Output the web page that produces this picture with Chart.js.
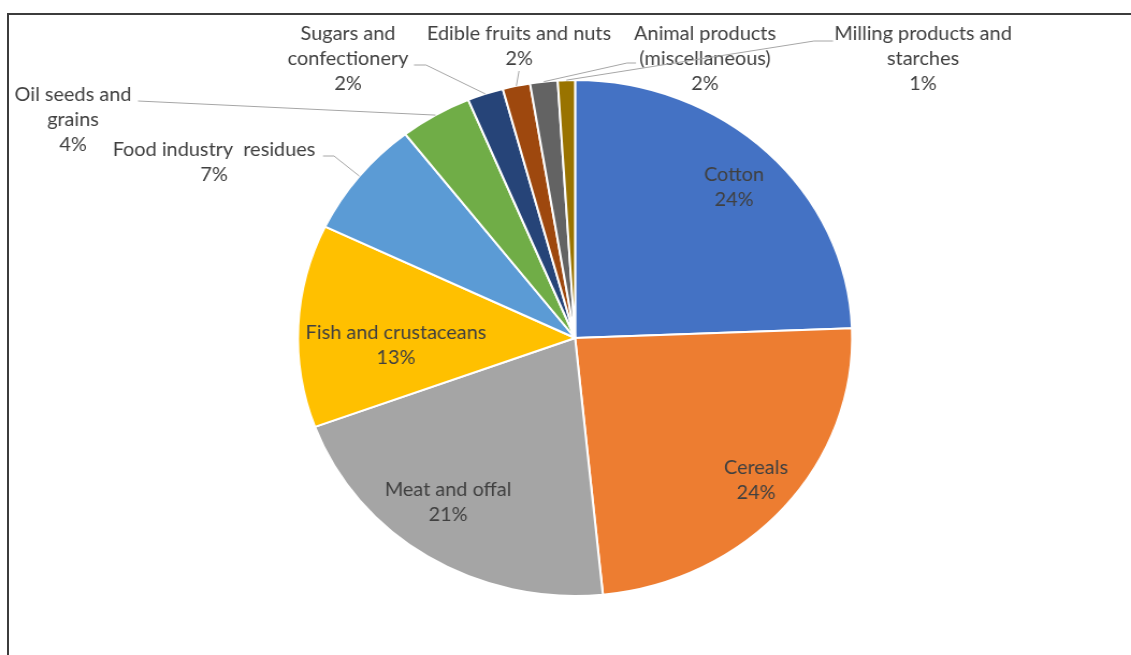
<!DOCTYPE html>
<html>
<head>
<meta charset="utf-8">
<script src="https://cdn.jsdelivr.net/npm/chart.js@4.4.0/dist/chart.umd.min.js"></script>
<style>
  html, body { margin: 0; padding: 0; background: #fff; overflow: hidden; }
  body { width: 1131px; height: 655px; position: relative; }
  #frame {
    position: absolute; left: 7px; top: 13px; width: 1300px; height: 800px;
    border-left: 2px solid #3c3c3c; border-top: 2px solid #3c3c3c;
  }
  /* the reference picture is stretched sideways, so the canvas is too */
  #wrap {
    position: absolute; left: 0; top: 0; width: 1053px; height: 655px;
    transform: scaleX(1.0741); transform-origin: 0 0;
  }
</style>
</head>
<body>
<div id="frame"></div>
<div id="wrap"><canvas id="pieChart" width="1053" height="655"></canvas></div>
<script>
// Data
const categories = [
  "Cotton", "Cereals", "Meat and offal", "Fish and crustaceans",
  "Food industry residues", "Oil seeds and grains", "Sugars and confectionery",
  "Edible fruits and nuts", "Animal products (miscellaneous)", "Milling products and starches"
];
const shares = [24.4, 24.0, 21.0, 12.7, 7.4, 4.2, 2.1, 1.6, 1.6, 1.0];
const labelLines = [
  ["Cotton"], ["Cereals"], ["Meat and offal"], ["Fish and crustaceans"],
  ["Food industry  residues"], ["Oil seeds and", "grains"], ["Sugars and", "confectionery"],
  ["Edible fruits and nuts"], ["Animal products", "(miscellaneous)"], ["Milling products and", "starches"]
];
const sliceColors = [
  "#4472C4", "#ED7D31", "#A5A5A5", "#FFC000", "#5B9BD5",
  "#70AD47", "#264478", "#9E480E", "#636363", "#997300"
];

// Label layout, in page pixels (x is divided by the stretch below)
const SX = 1131 / 1053;
const labelPlacement = [
  { x: 734, y: 175 },
  { x: 756, y: 468 },
  { x: 448, y: 490 },
  { x: 396, y: 333 },
  { x: 214, y: 150, leader: [[323, 156], [334, 156]] },
  { x: 73, y: 95, leader: [[138, 101]] },
  { x: 348, y: 34, leader: [[414, 65], [426, 65]] },
  { x: 519, y: 34, leader: [[519, 71]] },
  { x: 705, y: 34, leader: [[636, 63], [627, 63]] },
  { x: 923, y: 34, leader: [[833, 41], [814, 41]] }
];

const pieLabels = {
  id: "pieLabels",
  afterDatasetsDraw(chart) {
    const ctx = chart.ctx;
    const arcs = chart.getDatasetMeta(0).data;
    const total = shares.reduce((a, b) => a + b, 0);
    ctx.save();
    ctx.font = "18.5px Lato";
    ctx.fillStyle = "#404040";
    ctx.textAlign = "center";
    ctx.textBaseline = "middle";
    arcs.forEach((arc, i) => {
      const p = labelPlacement[i];
      if (p.leader) {
        const mid = (arc.startAngle + arc.endAngle) / 2;
        ctx.beginPath();
        p.leader.forEach(([lx, ly], k) => {
          if (k === 0) ctx.moveTo(lx / SX, ly);
          else ctx.lineTo(lx / SX, ly);
        });
        ctx.lineTo(arc.x + Math.cos(mid) * arc.outerRadius, arc.y + Math.sin(mid) * arc.outerRadius);
        ctx.strokeStyle = "#a6a6a6";
        ctx.lineWidth = 1;
        ctx.stroke();
      }
      const lines = labelLines[i].concat(Math.round((shares[i] / total) * 100) + "%");
      lines.forEach((t, k) => ctx.fillText(t, p.x / SX, p.y + k * 25));
    });
    ctx.restore();
  }
};

new Chart(document.getElementById("pieChart").getContext("2d"), {
  type: "pie",
  data: {
    labels: categories,
    datasets: [{
      data: shares,
      backgroundColor: sliceColors,
      borderColor: "#ffffff",
      borderWidth: 2
    }]
  },
  options: {
    responsive: false,
    animation: false,
    events: [],
    layout: { padding: { left: 276.4, right: 258.6, top: 79, bottom: 58 } },
    plugins: {
      legend: { display: false },
      tooltip: { enabled: false }
    }
  },
  plugins: [pieLabels]
});
</script>
</body>
</html>
